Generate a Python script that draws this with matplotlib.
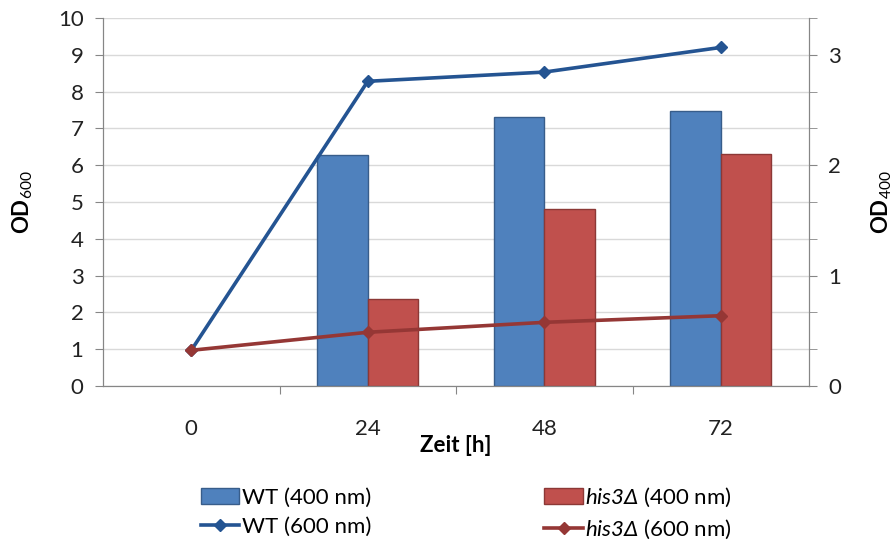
import matplotlib
matplotlib.use("Agg")
import matplotlib.pyplot as plt
from matplotlib.ticker import FixedLocator, NullFormatter
import numpy as np

plt.rcParams['font.family'] = ['Lato', 'DejaVu Sans']
plt.rcParams['mathtext.fontset'] = 'custom'
plt.rcParams['mathtext.rm'] = 'Lato'
plt.rcParams['mathtext.it'] = 'Lato:italic'
plt.rcParams['mathtext.bf'] = 'Lato:bold'
plt.rcParams['mathtext.sf'] = 'Lato:italic'  # used for the italic strain name

# data (no 400 nm reading at 0 h)
times = ['0', '24', '48', '72']
wt_400 = [np.nan, 2.09, 2.44, 2.49]
his_400 = [np.nan, 0.79, 1.60, 2.10]
wt_600 = [0.97, 8.28, 8.53, 9.20]
his_600 = [0.97, 1.46, 1.73, 1.91]

fs = 16
fig = plt.figure(figsize=(8.96, 5.42), dpi=100)
ax = fig.add_axes([103 / 896, 156 / 542, 706 / 896, 368 / 542])  # bars, OD400 (right)
ax2 = ax.twinx()  # lines, OD600 (left)

x = np.arange(len(times))
w = 1 / 3.5
grey = '#868686'
his = r'$\mathsf{his3Δ}$'

ax.bar(x - w / 2, wt_400, w, color='#4F81BD', edgecolor='#385D8A', linewidth=1, label='WT (400 nm)')
ax.bar(x + w / 2, his_400, w, color='#C0504D', edgecolor='#8C3836', linewidth=1,
       label=his + ' (400 nm)')
l1, = ax2.plot(x, wt_600, color='#245492', lw=2.6, marker='D', ms=6, label='WT (600 nm)')
l2, = ax2.plot(x, his_600, color='#953735', lw=2.6, marker='D', ms=6,
               label=his + ' (600 nm)')

# bar axis on the right
ax.set_ylim(0, 10 / 3)
ax.yaxis.tick_right()
ax.yaxis.set_label_position('right')
ax.set_yticks([0, 1, 2, 3])
ax.yaxis.set_minor_locator(FixedLocator([i / 3 for i in range(11)]))
ax.yaxis.set_minor_formatter(NullFormatter())
ax.tick_params(axis='y', which='both', direction='out', length=6, color=grey, labelsize=fs, labelcolor='#222222', pad=8)
ax.grid(axis='y', which='both', color='#D9D9D9', lw=1)
ax.set_axisbelow(True)
ax.set_ylabel('OD$_{400}$', fontsize=fs, fontweight='bold')
ax.yaxis.set_label_coords(1.086, 0.5)

# line axis on the left
ax2.set_ylim(0, 10)
ax2.yaxis.tick_left()
ax2.yaxis.set_label_position('left')
ax2.set_yticks(range(0, 11))
ax2.tick_params(axis='y', direction='out', length=6, color=grey, labelsize=fs, labelcolor='#222222', pad=8)
ax2.set_ylabel('OD$_{600}$', fontsize=fs, fontweight='bold')
ax2.yaxis.set_label_coords(-0.097, 0.5)

# x axis: ticks between categories, labels at centres
ax.set_xlim(-0.5, 3.5)
ax.set_xticks([0.5, 1.5, 2.5])
ax.set_xticklabels([])
ax.set_xticks(x, minor=True)
ax.set_xticklabels(times, minor=True)
ax.tick_params(axis='x', which='major', direction='out', length=6, color=grey)
ax.tick_params(axis='x', which='minor', length=0, labelsize=fs, pad=24, labelcolor='#222222')
ax.set_xlabel('Zeit [h]', fontsize=fs, fontweight='bold', labelpad=-3)

for a in (ax, ax2):
    a.spines['top'].set_visible(False)
    for s in ('left', 'right', 'bottom'):
        a.spines[s].set_color(grey)

handles = [ax.containers[0], l1, ax.containers[1], l2]
labels = [h.get_label() for h in handles]
fig.legend(handles, labels, ncol=2, loc='upper left', bbox_to_anchor=(185 / 896, 1 - 470 / 542),
           frameon=False, fontsize=fs, handlelength=1.75, handleheight=0.75, handletextpad=0.1,
           columnspacing=7.8, labelspacing=0.4, borderpad=0.2)

fig.savefig('out.png', dpi=100)
